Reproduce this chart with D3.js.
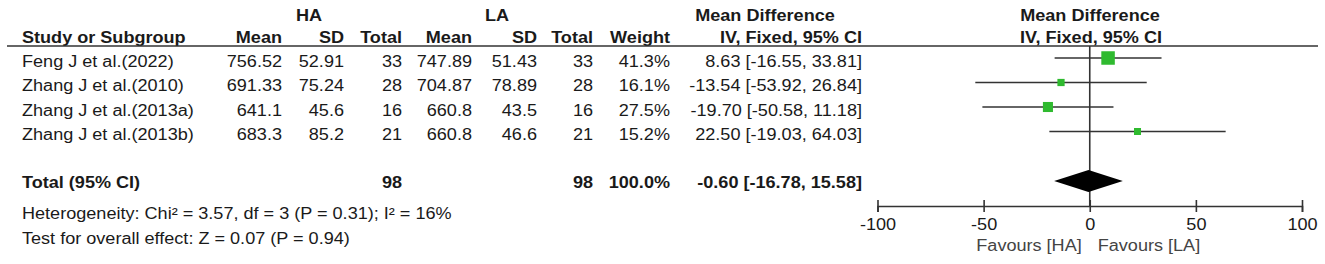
<!DOCTYPE html>
<html>
<head>
<meta charset="utf-8">
<script src="https://cdn.jsdelivr.net/npm/d3@7"></script>
<style>
  html, body { margin: 0; padding: 0; background: #fff; }
  svg { display: block; font-family: "Liberation Sans", Arial, Helvetica, sans-serif; font-size: 16px; }
</style>
</head>
<body>
<svg id="chart" width="1325" height="264"></svg>
<script>
// ---------------- DATA ----------------
const studies  = ["Feng J et al.(2022)", "Zhang J et al.(2010)", "Zhang J et al.(2013a)", "Zhang J et al.(2013b)"];
const haMean   = [756.52, 691.33, 641.1, 683.3];
const haSD     = [52.91, 75.24, 45.6, 85.2];
const haTotal  = [33, 28, 16, 21];
const laMean   = [747.89, 704.87, 660.8, 660.8];
const laSD     = [51.43, 78.89, 43.5, 46.6];
const laTotal  = [33, 28, 16, 21];
const weights  = [41.3, 16.1, 27.5, 15.2];
const md       = [8.63, -13.54, -19.70, 22.50];
const ciLow    = [-16.55, -53.92, -50.58, -19.03];
const ciHigh   = [33.81, 26.84, 11.18, 64.03];

const totalLabel   = "Total (95% CI)";
const totalHA      = 98;
const totalLA      = 98;
const totalWeight  = 100.0;
const totalMD      = -0.60;
const totalLow     = -16.78;
const totalHigh    = 15.58;

const heterogeneityText = "Heterogeneity: Chi\u00B2 = 3.57, df = 3 (P = 0.31); I\u00B2 = 16%";
const overallText       = "Test for overall effect: Z = 0.07 (P = 0.94)";

const groupHeaders  = ["HA", "LA", "Mean Difference", "Mean Difference"];
const colHeaders    = ["Study or Subgroup", "Mean", "SD", "Total", "Mean", "SD", "Total", "Weight", "IV, Fixed, 95% CI", "IV, Fixed, 95% CI"];
const axisTicks     = [-100, -50, 0, 50, 100];
const axisDomain    = [-100, 100];
const favourLabels  = ["Favours [HA]", "Favours [LA]"];

// ---------------- LAYOUT ----------------
const SX = 1.13;              // horizontal stretch of the original picture's text
const INK = "#1a1a1a";
const svg = d3.select("#chart");

function txt(x, y, s, anchor, weight, fill) {
  return svg.append("text")
    .attr("transform", `translate(${x},${y}) scale(${SX},1)`)
    .attr("text-anchor", anchor || "start")
    .attr("font-weight", weight || "normal")
    .attr("fill", fill || INK)
    .text(s);
}

const colRight = { haMean: 282, haSD: 344, haTotal: 402, laMean: 472, laSD: 537, laTotal: 593, weight: 670, ci: 862 };
const nameX = 22;
const rowY = d3.scaleLinear().domain([0, 1]).range([58, 82.5]);   // CI line y for row index
const textOff = 8.5;

// header row 1
txt(309, 21, groupHeaders[0], "middle", "bold");
txt(497, 21, groupHeaders[1], "middle", "bold");
txt(765, 21, groupHeaders[2], "middle", "bold");
txt(1090, 21, groupHeaders[3], "middle", "bold");

// header row 2
const h2 = 43;
txt(nameX, h2, colHeaders[0], "start", "bold");
txt(colRight.haMean, h2, colHeaders[1], "end", "bold");
txt(colRight.haSD, h2, colHeaders[2], "end", "bold");
txt(colRight.haTotal, h2, colHeaders[3], "end", "bold");
txt(colRight.laMean, h2, colHeaders[4], "end", "bold");
txt(colRight.laSD, h2, colHeaders[5], "end", "bold");
txt(colRight.laTotal, h2, colHeaders[6], "end", "bold");
txt(colRight.weight, h2, colHeaders[7], "end", "bold");
txt(colRight.ci, h2, colHeaders[8], "end", "bold");
txt(1091, h2, colHeaders[9], "middle", "bold");

// header rule
svg.append("line").attr("x1", 7).attr("x2", 1318).attr("y1", 46).attr("y2", 46)
  .attr("stroke", "#333").attr("stroke-width", 1.6);

const f2 = v => v.toFixed(2);
const f1 = v => v.toFixed(1);

studies.forEach((s, i) => {
  const y = rowY(i) + textOff;
  txt(nameX, y, s, "start");
  txt(colRight.haMean, y, String(haMean[i]), "end");
  txt(colRight.haSD, y, String(haSD[i]), "end");
  txt(colRight.haTotal, y, String(haTotal[i]), "end");
  txt(colRight.laMean, y, String(laMean[i]), "end");
  txt(colRight.laSD, y, String(laSD[i]), "end");
  txt(colRight.laTotal, y, String(laTotal[i]), "end");
  txt(colRight.weight, y, f1(weights[i]) + "%", "end");
  txt(colRight.ci, y, `${f2(md[i])} [${f2(ciLow[i])}, ${f2(ciHigh[i])}]`, "end");
});

// total row
const totY = 181;
txt(nameX, totY + 7, totalLabel, "start", "bold");
txt(colRight.haTotal, totY + 7, String(totalHA), "end", "bold");
txt(colRight.laTotal, totY + 7, String(totalLA), "end", "bold");
txt(colRight.weight, totY + 7, f1(totalWeight) + "%", "end", "bold");
txt(colRight.ci, totY + 7, `${f2(totalMD)} [${f2(totalLow)}, ${f2(totalHigh)}]`, "end", "bold");

txt(nameX, 219, heterogeneityText, "start");
txt(nameX, 244, overallText, "start");

// ---------------- FOREST PLOT ----------------
const x = d3.scaleLinear().domain(axisDomain).range([877.5, 1302]);
const axisY = 206;

// zero line
svg.append("line").attr("x1", x(0)).attr("x2", x(0)).attr("y1", 46).attr("y2", axisY)
  .attr("stroke", "#333").attr("stroke-width", 1.6);

// CI lines
svg.selectAll("line.ci").data(studies).join("line").attr("class", "ci")
  .attr("x1", (d, i) => x(ciLow[i])).attr("x2", (d, i) => x(ciHigh[i]))
  .attr("y1", (d, i) => rowY(i)).attr("y2", (d, i) => rowY(i))
  .attr("stroke", "#333").attr("stroke-width", 1.5);

// squares
const size = d3.scaleLinear().domain([d3.min(weights), d3.max(weights)]).range([7, 13.5]);
svg.selectAll("rect.pt").data(studies).join("rect").attr("class", "pt")
  .attr("x", (d, i) => x(md[i]) - size(weights[i]) / 2)
  .attr("y", (d, i) => rowY(i) - size(weights[i]) / 2)
  .attr("width", (d, i) => size(weights[i]))
  .attr("height", (d, i) => size(weights[i]))
  .attr("fill", "#2fba2f");

// diamond
const dh = 11;
svg.append("polygon")
  .attr("points", [[x(totalLow), totY], [x(totalMD), totY - dh], [x(totalHigh), totY], [x(totalMD), totY + dh]].map(p => p.join(",")).join(" "))
  .attr("fill", "#000");

// axis
const axis = d3.axisBottom(x).tickValues(axisTicks).tickSizeOuter(0).tickSize(6).tickFormat(d => String(d));
const gAxis = svg.append("g").attr("transform", `translate(0,${axisY})`).call(axis);
gAxis.select(".domain").attr("stroke", "#333").attr("stroke-width", 1.6);
gAxis.selectAll(".tick line").attr("y1", -6).attr("y2", 6).attr("stroke", "#333").attr("stroke-width", 1.6);
gAxis.selectAll(".tick text")
  .attr("y", 24).attr("dy", null)
  .attr("transform", `scale(${SX},1)`)
  .attr("fill", INK)
  .style("font-family", "'Liberation Sans', Arial, sans-serif")
  .style("font-size", "16px");

txt(x(0) - 8, 251, favourLabels[0], "end", "normal", "#444");
txt(x(0) + 8, 251, favourLabels[1], "start", "normal", "#444");
</script>
</body>
</html>
